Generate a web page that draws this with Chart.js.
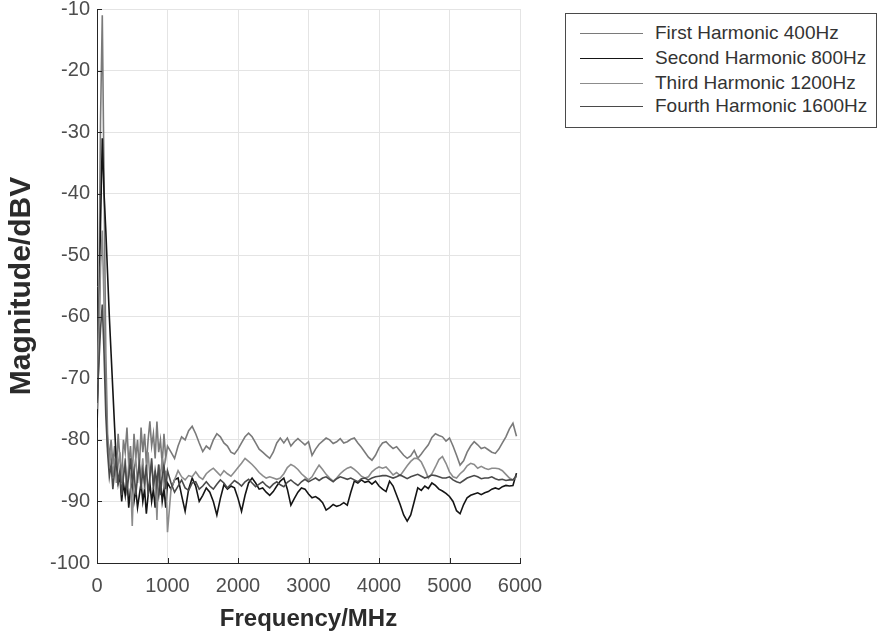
<!DOCTYPE html>
<html>
<head>
<meta charset="utf-8">
<script src="https://cdn.jsdelivr.net/npm/chart.js@4.4.0/dist/chart.umd.min.js"></script>
<style>
  html, body { margin: 0; padding: 0; background: #fff; overflow: hidden; }
  #wrap { position: relative; width: 881px; height: 638px; overflow: hidden; }
  #myChart { position: absolute; left: 0; top: -10px; }
  #legend {
    position: absolute; left: 565px; top: 13px; width: 312px; height: 115px;
    box-sizing: border-box; border: 1px solid #4a4a4a; background: #fff;
    font-family: "Liberation Sans", Arial, sans-serif; font-size: 19px; color: #333;
  }
  .row { position: absolute; left: 0; height: 24px; display: flex; align-items: center; white-space: nowrap; }
  .swatch { width: 63px; height: 0; border-top: 1.5px solid; margin-left: 14px; margin-right: 12px; }
</style>
</head>
<body>
<div id="wrap">
  <canvas id="myChart" width="881" height="648"></canvas>
  <div id="legend"></div>
</div>
<script>
// frequency axis (MHz)
const freqs = [
  0, 25, 50, 75, 100, 125, 150, 175, 200, 225, 250, 275, 300, 325, 350, 375, 400, 425, 450, 475,
  500, 525, 550, 575, 600, 625, 650, 675, 700, 725, 750, 775, 800, 825, 850, 875, 900, 925, 950, 975, 1000,
  1050, 1100, 1150, 1200, 1250, 1300, 1350, 1400, 1450, 1500,
  1550, 1600, 1650, 1700, 1750, 1800, 1850, 1900, 1950, 2000,
  2050, 2100, 2150, 2200, 2250, 2300, 2350, 2400, 2450, 2500,
  2550, 2600, 2650, 2700, 2750, 2800, 2850, 2900, 2950, 3000,
  3050, 3100, 3150, 3200, 3250, 3300, 3350, 3400, 3450, 3500,
  3550, 3600, 3650, 3700, 3750, 3800, 3850, 3900, 3950, 4000,
  4050, 4100, 4150, 4200, 4250, 4300, 4350, 4400, 4450, 4500,
  4550, 4600, 4650, 4700, 4750, 4800, 4850, 4900, 4950, 5000,
  5050, 5100, 5150, 5200, 5250, 5300, 5350, 5400, 5450, 5500,
  5550, 5600, 5650, 5700, 5750, 5800, 5850, 5900, 5950
];

// magnitude in dBV, one array per harmonic
const firstHarmonic = [
  -76, -58, -28, -11, -38, -66, -79, -83, -80, -84, -81, -85, -79, -83, -86, -80, -82, -78, -84, -81,
  -86, -79, -83, -80, -85, -78, -82, -79, -84, -80, -77, -81, -79, -83, -77, -82, -80, -84, -79, -83, -81,
  -82, -83, -81, -79.5, -80, -78.5, -77.8, -79, -80.5, -81.9,
  -81, -81.5, -80, -79, -79.5, -80.5, -81, -82, -82.3, -81.5,
  -80.5, -79.5, -78.9, -79.5, -80.5, -81.5, -82, -82.5, -83, -82,
  -80.5, -79.7, -80.5, -79.7, -81, -80.3, -79.8, -80.3, -80.8, -80.3,
  -82.5, -81.5, -80.7, -80.2, -79.7, -80, -80.6, -80.3, -79.8, -80.5,
  -80.3, -79.9, -79.7, -80.5, -81.2, -82, -82.8, -83.3, -82.5, -81.3,
  -80.5, -80.3, -80.9, -81.4, -81.1, -81.8, -82.5, -83, -82.6, -81.7,
  -83, -82.3, -81.5, -80.8, -79.6, -79, -79.3, -79.5, -80.2, -79.7,
  -81, -82.5, -84.1, -83.4, -82, -81, -80.3, -80.8, -81.4, -81.2,
  -81.6, -82, -82.2, -81.5, -80.5, -79.5, -78.2, -77.3, -79.4
];
const secondHarmonic = [
  -78, -66, -45, -31, -40, -46, -53, -60, -66, -72, -78, -84, -87, -86, -90, -87, -89, -86, -91, -88,
  -87, -90, -88, -91, -89, -87, -90, -88, -92, -89, -87, -90, -88, -91, -87, -89, -86, -90, -88, -91, -87,
  -88, -86.5, -86.2, -89, -91.6, -88, -86.2, -87.5, -90, -89,
  -87.8, -88.5, -90, -92.2, -89.5, -87.3, -88, -87.5, -87.8, -89.5,
  -91.6, -89, -87, -86.2, -87, -88, -87.8, -88.5, -89, -88.4,
  -87.5, -86.7, -86.2, -88, -90.6, -89.5, -88.5, -87.8, -88, -88.8,
  -89.4, -89.2, -89.6, -90.2, -91.4, -91, -90.5, -90.8, -90.6, -90.2,
  -90.6, -88.5, -86.7, -87, -86.5, -86.9, -86.7, -87.2, -86.7, -87.5,
  -88, -88.4, -86.7, -87.5, -89, -90.5, -92.2, -93.2, -92.2, -90,
  -87.8, -88.2, -87.5, -87.9, -87, -87.4, -88, -88.3, -88.7, -89.2,
  -90, -91.5, -92, -90.5, -89.4, -89, -88.8, -88.6, -88.9, -88.6,
  -88.4, -88, -87.8, -88, -87.6, -87.4, -87.5, -87.4, -85.4
];
const thirdHarmonic = [
  -75, -64, -52, -46, -58, -72, -81, -84, -82, -86, -83, -87, -84, -82, -87, -85, -83, -88, -84, -86,
  -94, -85, -83, -87, -84, -86, -83, -88, -85, -82, -86, -84, -87, -85, -93, -84, -86, -83, -87, -85, -95,
  -88, -86.5, -85, -86, -86.5, -85.8, -86, -85.2, -86, -86.4,
  -85.5, -85, -84.6, -85.2, -85.8, -85, -85.5, -85.9, -85.2, -84.5,
  -83.8, -83, -83.5, -84, -84.6, -85.3, -85.8, -86.2, -86, -86.2,
  -86.4, -86.2, -85.5, -84.5, -84, -84.3, -84.8, -85.5, -86, -86.5,
  -86, -85, -84.1, -84.8, -85.6, -86.2, -86.7, -86.2, -85.5, -85,
  -84.6, -84.4, -84.8, -85.3, -85.9, -86.2, -86, -85.2, -84.7, -84.4,
  -84.6, -84.4, -85, -85.7, -85.3, -85.8, -85, -84.2, -83.5, -83,
  -83, -83.6, -84.8, -86.2, -85.5, -84.4, -83.2, -82.7, -83.8, -85.2,
  -86, -86.2, -85.5, -85, -84.2, -83.8, -84, -84.6, -84.3, -84.6,
  -84.8, -84.6, -84.6, -84.7, -85, -85.6, -86.2, -86.5, -86
];
const fourthHarmonic = [
  -74, -68, -62, -58, -66, -76, -82, -86, -84, -88, -85, -83, -87, -85, -89, -86, -84, -88, -86, -83,
  -87, -85, -89, -86, -84, -88, -85, -87, -84, -89, -86, -83, -88, -85, -87, -84, -89, -86, -84, -88, -85,
  -87, -88.5, -87.5, -86.5, -87.8, -88.2, -87, -86.8, -88, -87.5,
  -86.8, -87.5, -88, -87.2, -86.5, -87, -87.8, -87.2, -86.6, -87,
  -87.5, -86.8, -86.4, -87, -87.6, -87.2, -86.8, -87.4, -87.8, -87.2,
  -86.8, -87.3, -87.6, -86.9, -86.5, -87, -87.4, -86.8, -86.4, -86.8,
  -86.5, -86.2, -86.6, -86.2, -86, -86.4, -86.8, -86.3, -86, -86.2,
  -86.4, -86.2, -86.5, -86.8, -86.3, -86.2, -86.5, -86.2, -86, -85.9,
  -85.8, -85.8, -86, -86.2, -86, -85.7, -86, -86.3, -86, -85.8,
  -85.6, -85.9, -86.2, -86, -85.7, -85.8, -86, -86.2, -86.2, -86,
  -86.5, -86.8, -87, -86.6, -86.2, -86, -85.8, -86, -86.3, -86.2,
  -86.2, -86, -86.3, -86.5, -86.4, -86.6, -86.5, -86.5, -85.8
];

const seriesNames = ["First Harmonic 400Hz", "Second Harmonic 800Hz", "Third Harmonic 1200Hz", "Fourth Harmonic 1600Hz"];
const seriesValues = [firstHarmonic, secondHarmonic, thirdHarmonic, fourthHarmonic];
const seriesColors = ["#7a7a7a", "#151515", "#8c8c8c", "#4a4a4a"];

const fontFamily = "'Liberation Sans', Arial, sans-serif";

// MATLAB style ticks pointing into the plot
const inwardTicks = {
  id: "inwardTicks",
  afterDraw(chart) {
    const {ctx, chartArea: a, scales: {x, y}} = chart;
    ctx.save();
    ctx.strokeStyle = "#262626";
    ctx.lineWidth = 1;
    ctx.beginPath();
    y.ticks.forEach((t) => {
      const py = Math.round(y.getPixelForValue(t.value)) + 0.5;
      ctx.moveTo(a.left, py);
      ctx.lineTo(a.left + 5, py);
    });
    x.ticks.forEach((t) => {
      const px = Math.round(x.getPixelForValue(t.value)) + 0.5;
      ctx.moveTo(px, a.bottom);
      ctx.lineTo(px, a.bottom - 5);
    });
    ctx.stroke();
    ctx.restore();
  }
};

const ctx = document.getElementById("myChart").getContext("2d");
new Chart(ctx, {
  type: "line",
  data: {
    datasets: seriesNames.map((name, i) => ({
      label: name,
      data: freqs.map((f, j) => ({x: f, y: seriesValues[i][j]})),
      borderColor: seriesColors[i],
      borderWidth: 1.6,
      pointRadius: 0,
      tension: 0,
      order: seriesNames.length - i
    }))
  },
  options: {
    responsive: false,
    animation: false,
    layout: {padding: {left: 0, right: 361, top: 0, bottom: 0}},
    plugins: {legend: {display: false}, tooltip: {enabled: false}},
    scales: {
      x: {
        type: "linear",
        min: 0,
        max: 6000,
        ticks: {
          stepSize: 1000, color: "#4d4d4d", font: {family: fontFamily, size: 20}, padding: 11, maxRotation: 0,
          callback: (value) => String(value)
        },
        grid: {color: "#e4e4e4", drawTicks: false},
        border: {color: "#262626", width: 1},
        title: {display: true, text: "Frequency/MHz", color: "#2b2b2b", font: {family: fontFamily, size: 24, weight: "bold"}, padding: {top: 0, bottom: 4}},
        afterFit(scale) { scale.height = 75; }
      },
      y: {
        min: -100,
        max: -10,
        ticks: {stepSize: 10, color: "#4d4d4d", font: {family: fontFamily, size: 20}, padding: 7},
        grid: {color: "#e4e4e4", drawTicks: false},
        border: {color: "#262626", width: 1},
        title: {display: true, text: "Magnitude/dBV", color: "#2b2b2b", font: {family: fontFamily, size: 30, weight: "bold"}, padding: {top: 4, bottom: 0}},
        afterFit(scale) { scale.width = 97; }
      }
    }
  },
  plugins: [inwardTicks]
});

// legend box built from the same series lists
const legend = document.getElementById("legend");
const rowCenters = [19, 44, 69, 92];
seriesNames.forEach((name, i) => {
  const row = document.createElement("div");
  row.className = "row";
  row.style.top = (rowCenters[i] - 12) + "px";
  const sw = document.createElement("span");
  sw.className = "swatch";
  sw.style.borderTopColor = seriesColors[i];
  const label = document.createElement("span");
  label.textContent = name;
  row.appendChild(sw);
  row.appendChild(label);
  legend.appendChild(row);
});
</script>
</body>
</html>
